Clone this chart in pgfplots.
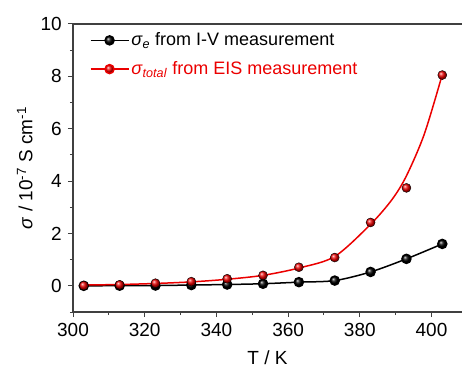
\documentclass[border=0pt]{standalone}
\usepackage{fontspec}
\setmainfont{Liberation Sans}
\usepackage{pgfplots}
\pgfplotsset{compat=1.18}
\definecolor{myred}{RGB}{235,0,0}
\begin{document}
\fontsize{18}{21}\selectfont
\begin{tikzpicture}
\begin{axis}[
  scale only axis,
  width=389pt, height=288pt,
  xmin=300, xmax=408.5, ymin=-1, ymax=10,
  axis x line=box, axis y line=left,
  axis line style={black!75, line width=1.1pt, -},
  xtick={300,320,...,400}, minor xtick={310,330,...,390},
  ytick={0,2,...,10}, minor ytick={-1,1,3,5,7,9},
  xtick pos=bottom,
  tick align=outside,
  major tick length=5pt, minor tick length=3pt,
  every tick/.style={black!75, line width=1pt},
  /pgf/number format/assume math mode=true,
  tick label style={font=\fontsize{19}{22}\selectfont},
  label style={font=\fontsize{19}{22}\selectfont},
  xlabel={T / K},
  ylabel={\textit{σ} / 10\textsuperscript{-7} S cm\textsuperscript{-1}},
  xlabel style={yshift=-2pt},
  ylabel style={yshift=-4pt},
  clip=false,
  legend style={draw=none, fill=none, at={(0.035,0.985)}, anchor=north west,
    font=\fontsize{18}{21}\selectfont, row sep=9pt},
  legend cell align=left,
  legend image code/.code={\draw[mark repeat=2,mark phase=2] plot coordinates {(0pt,0pt) (19pt,0pt) (38pt,0pt)};},
]
\addplot[black, line width=1.5pt, smooth, mark=ball, mark size=4.5pt, mark options={ball color=black}] coordinates {
(303,0.00) (313,0.005) (323,0.01) (333,0.03) (343,0.05) (353,0.08) (363,0.14) (373,0.20) (383,0.53) (393,1.03) (403,1.60)};
\addlegendentry{\textit{σ}\textsubscript{\textit{e}} from I-V measurement}
\addlegendimage{myred, line width=1.5pt, mark=ball, mark size=4.5pt, mark options={ball color=myred}}
\addlegendentry{\textcolor{myred}{\textit{σ}\textsubscript{\textit{total}} from EIS measurement}}
\addplot[myred, line width=1.5pt, smooth, forget plot] coordinates {
(303,0.03) (313,0.05) (323,0.09) (333,0.15) (343,0.25) (353,0.40) (363,0.68) (373,1.12) (383,2.35) (389,3.3) (393,4.2) (398,5.8) (403,8.07)};
\addplot[only marks, mark=ball, mark size=4.5pt, mark options={ball color=myred}, forget plot] coordinates {
(303,0.01) (313,0.04) (323,0.10) (333,0.16) (343,0.27) (353,0.40) (363,0.71) (373,1.08) (383,2.42) (393,3.74) (403,8.05)};
\end{axis}
\pgfresetboundingbox
\path ([xshift=-73pt,yshift=-62pt]current axis.south west) rectangle ([yshift=24pt]current axis.north east);
\end{tikzpicture}
\end{document}
